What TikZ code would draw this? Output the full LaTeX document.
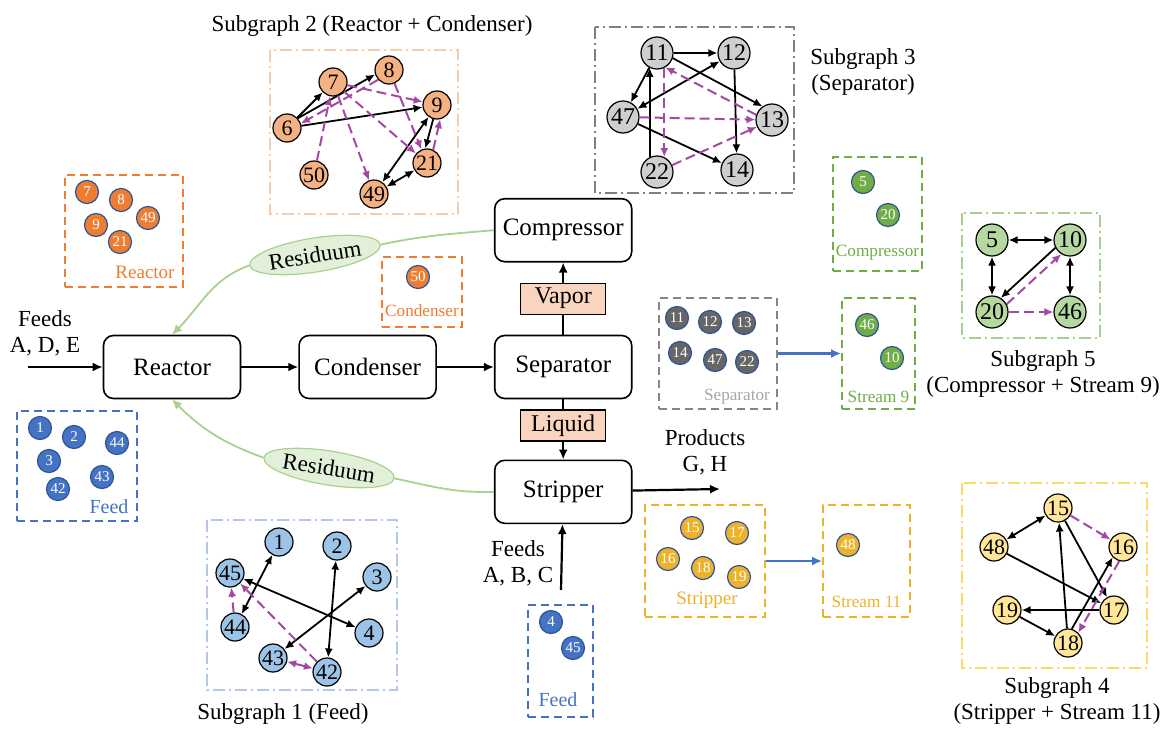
\documentclass[tikz,border=0pt]{standalone}
\usepackage{fontspec}
\setmainfont{Liberation Serif}
\usetikzlibrary{positioning,calc}
\usetikzlibrary{shapes.geometric}
\usetikzlibrary{arrows.meta}

\definecolor{orgC}{HTML}{ED7D31}
\definecolor{bluC}{HTML}{4472C4}
\definecolor{gryC}{HTML}{666666}
\definecolor{grnC}{HTML}{70AD47}
\definecolor{ylwC}{HTML}{EDB22A}
\definecolor{rimC}{HTML}{2F5597}
\definecolor{purC}{HTML}{A349A4}
\definecolor{peachF}{HTML}{F4B183}
\definecolor{peachL}{HTML}{F8CBAD}
\definecolor{greyF}{HTML}{D0CECE}
\definecolor{lblueF}{HTML}{9DC3E6}
\definecolor{lblueL}{HTML}{B4C7E7}
\definecolor{lylwF}{HTML}{FFE699}
\definecolor{lylwL}{HTML}{FFD966}
\definecolor{lgrnF}{HTML}{B4D8A0}
\definecolor{lgrnL}{HTML}{A9D18E}
\definecolor{resF}{HTML}{E2F0D9}
\definecolor{tagF}{HTML}{F9D5C0}

\tikzset{
   procbox/.style={draw, rounded corners=5pt, line width=0.8pt,
      minimum width=68.5pt, minimum height=31.5pt,
      font=\fontsize{12.5}{14}\selectfont},
   tagbox/.style={draw, fill=tagF, line width=0.6pt, inner sep=0pt,
      minimum width=42.5pt, minimum height=15.5pt,
      font=\fontsize{12}{14}\selectfont},
   flowarr/.style={-{Latex[length=5pt,width=4.5pt]}, line width=1.1pt},
   resline/.style={draw=lgrnL, line width=0.9pt},
   resnode/.style={ellipse, draw=lgrnL, fill=resF, line width=0.6pt,
      inner sep=0pt, minimum width=61pt, minimum height=17pt,
      font=\fontsize{11.5}{13}\selectfont},
   lbl/.style={align=center, font=\fontsize{11.5}{13}\selectfont},
   sgframe/.style={line width=0.8pt, dash pattern=on 6pt off 2pt on 1pt off 2pt},
   sgnode/.style={circle, draw, line width=0.6pt, inner sep=0pt,
      minimum size=14pt, font=\fontsize{11}{11}\selectfont},
   bignode/.style={sgnode, minimum size=16pt, font=\fontsize{12}{12}\selectfont},
   blk/.style={line width=0.9pt, -{Latex[length=4.5pt,width=4pt]}},
   blkb/.style={line width=0.9pt, {Latex[length=4.5pt,width=4pt]}-{Latex[length=4.5pt,width=4pt]}},
   pur/.style={draw=purC, line width=1pt, dash pattern=on 5pt off 2.5pt,
      -{Latex[length=4.5pt,width=4pt]}},
   purb/.style={pur, {Latex[length=4.5pt,width=4pt]}-{Latex[length=4.5pt,width=4pt]}},
   clbox/.style={draw, line width=0.9pt, dash pattern=on 4pt off 2.5pt,
      inner sep=0pt},
   clnode/.style={circle, draw=rimC, line width=0.6pt, inner sep=0pt,
      minimum size=11.5pt, text=white, font=\fontsize{7.5}{7.5}\selectfont},
   cllbl/.style={font=\fontsize{8.6}{10}\selectfont},
   bluarr/.style={draw=bluC, line width=1.1pt, -{Latex[length=5pt,width=4.5pt]}}
}

\begin{document}
\begin{tikzpicture}[x=0.5pt,y=-0.5pt]
   \useasboundingbox (0,0) rectangle (1160,728);

   % process units
   \node[procbox] (reac) at (172,367) {Reactor};
   \node[procbox, right=28.5pt of reac] (cond) {Condenser};
   \node[procbox, right=28.5pt of cond] (sep) {Separator};
   \node[tagbox, above=10pt of sep] (vap) {Vapor};
   \node[procbox, above=10pt of vap] (comp) {Compressor};
   \node[tagbox, below=5pt of sep] (liq) {Liquid};
   \node[procbox, below=9pt of liq] (strip) {Stripper};

   % feeds and products
   \coordinate (fin1) at (28,367);
   \coordinate (fin2) at (561,590);
   \coordinate (pout) at (720,489);
   \node[lbl] (fin1lbl) at (45,333) {Feeds\\A, D, E};
   \node[lbl] (fin2lbl) at (518,563) {Feeds\\A, B, C};
   \node[lbl] (poutlbl) at (705,452) {Products\\G, H};

   \draw[flowarr] (fin1) -- (reac);
   \draw[flowarr] (reac) -- (cond);
   \draw[flowarr] (cond) -- (sep);
   \draw[line width=1.1pt] (sep) -- (vap);
   \draw[flowarr] (vap) -- (comp);
   \draw[line width=1.1pt] (sep) -- (liq);
   \draw[flowarr] (liq) -- (strip);
   \draw[flowarr] (strip) -- (pout);
   \draw[flowarr] (fin2) -- (strip);

   % residuum recycles
   \node[resnode, rotate=9] (res1) at (315,255) {Residuum};
   \node[resnode, rotate=-9] (res2) at (329,468) {Residuum};
   \draw[resline] (comp.west) to[out=185,in=12] (res1.east);
   \draw[resline, -{Latex[length=5pt,width=4.5pt]}] (res1.west)
      to[out=200,in=45] (reac.north);
   \draw[resline] (strip.west) to[out=182,in=-12] (res2.east);
   \draw[resline, -{Latex[length=5pt,width=4.5pt]}] (res2.west)
      to[out=160,in=-45] (reac.south);

   % reactor cluster
   \node[clbox, draw=orgC, minimum width=59pt, minimum height=56pt] (reacCl) at (124,231) {};
   \node[clnode, fill=orgC] (rc7)  at (87,192)  {7};
   \node[clnode, fill=orgC] (rc8)  at (121,200) {8};
   \node[clnode, fill=orgC] (rc49) at (148,218) {49};
   \node[clnode, fill=orgC] (rc9)  at (96,225)  {9};
   \node[clnode, fill=orgC] (rc21) at (120,242) {21};
   \node[cllbl, text=orgC, font=\fontsize{9.5}{10}\selectfont] (reacLbl) at (145,272) {Reactor};

   % condenser cluster
   \node[clbox, draw=orgC, minimum width=40pt, minimum height=35pt] (condCl) at (422,292) {};
   \node[clnode, fill=orgC] (cc50) at (418,277) {50};
   \node[cllbl, text=orgC] (condLbl) at (422,311) {Condenser};

   % feed cluster (left)
   \node[clbox, draw=bluC, minimum width=60pt, minimum height=55pt] (feedCl) at (77,466) {};
   \node[clnode, fill=bluC] (fc1)  at (40,428)  {1};
   \node[clnode, fill=bluC] (fc2)  at (74,437)  {2};
   \node[clnode, fill=bluC] (fc44) at (117,443) {44};
   \node[clnode, fill=bluC] (fc3)  at (49,461)  {3};
   \node[clnode, fill=bluC] (fc43) at (102,477) {43};
   \node[clnode, fill=bluC] (fc42) at (58,489)  {42};
   \node[cllbl, text=bluC, font=\fontsize{10}{10}\selectfont] (feedLbl) at (109,507) {Feed};

   % compressor cluster
   \node[clbox, draw=grnC, minimum width=44.5pt, minimum height=57pt] (compCl) at (877.5,214) {};
   \node[clnode, fill=grnC] (kc5)  at (863,182) {5};
   \node[clnode, fill=grnC] (kc20) at (888,215) {20};
   \node[cllbl, text=grnC] (compLbl) at (877.5,253) {Compressor};

   % separator cluster and stream 9
   \node[clbox, draw=gryC!80, minimum width=59pt, minimum height=55.5pt] (sepCl) at (718,353.5) {};
   \node[clnode, fill=gryC] (sc11) at (677,318) {11};
   \node[clnode, fill=gryC] (sc12) at (710,322) {12};
   \node[clnode, fill=gryC] (sc13) at (744,323) {13};
   \node[clnode, fill=gryC] (sc14) at (680,353) {14};
   \node[clnode, fill=gryC] (sc47) at (715,360) {47};
   \node[clnode, fill=gryC] (sc22) at (747,362) {22};
   \node[cllbl, text=gray!70] (sepLbl) at (737,397) {Separator};

   \node[clbox, draw=grnC, minimum width=36.5pt, minimum height=55.5pt] (s9Cl) at (878.5,353.5) {};
   \node[clnode, fill=grnC] (nc46) at (867,325) {46};
   \node[clnode, fill=grnC] (nc10) at (892,358) {10};
   \node[cllbl, text=grnC] (s9Lbl) at (878.5,397) {Stream 9};
   \draw[bluarr] (sepCl) -- (s9Cl);

   % stripper cluster and stream 11
   \node[clbox, draw=ylwC, minimum width=60pt, minimum height=56pt] (stripCl) at (705,561) {};
   \node[clnode, fill=ylwC] (tc15) at (692,528) {15};
   \node[clnode, fill=ylwC] (tc17) at (737,533) {17};
   \node[clnode, fill=ylwC] (tc16) at (668,559) {16};
   \node[clnode, fill=ylwC] (tc18) at (703,568) {18};
   \node[clnode, fill=ylwC] (tc19) at (739,577) {19};
   \node[cllbl, text=ylwC, font=\fontsize{9.5}{10}\selectfont] (stripLbl) at (707,600) {Stripper};

   \node[clbox, draw=ylwC, minimum width=43.5pt, minimum height=56pt] (s11Cl) at (866.5,561) {};
   \node[clnode, fill=ylwC] (mc48) at (848,545) {48};
   \node[cllbl, text=ylwC] (s11Lbl) at (866.5,602) {Stream 11};
   \draw[bluarr] (stripCl) -- (s11Cl);

   % feed cluster (bottom)
   \node[clbox, draw=bluC, minimum width=32.5pt, minimum height=56pt] (feed2Cl) at (560.5,661) {};
   \node[clnode, fill=bluC] (fd4)  at (551,622) {4};
   \node[clnode, fill=bluC] (fd45) at (573,648) {45};
   \node[cllbl, text=bluC, font=\fontsize{10}{10}\selectfont] (feed2Lbl) at (558,700) {Feed};

   % subgraph 2: reactor + condenser
   \draw[sgframe, draw=peachL] (270,50) rectangle (458,214);
   \node[lbl] (g2lbl) at (372,26) {Subgraph 2 (Reactor + Condenser)};
   \node[sgnode, fill=peachF] (g2n7)  at (333,82)  {7};
   \node[sgnode, fill=peachF] (g2n8)  at (389,70)  {8};
   \node[sgnode, fill=peachF] (g2n9)  at (437,105) {9};
   \node[sgnode, fill=peachF] (g2n6)  at (287,128) {6};
   \node[sgnode, fill=peachF] (g2n21) at (427,163) {21};
   \node[sgnode, fill=peachF] (g2n50) at (314,175) {50};
   \node[sgnode, fill=peachF] (g2n49) at (374,194) {49};
   \draw[blk] (g2n6) -- (g2n7);
   \draw[blk] (g2n6.42) -- (g2n8.198);
   \draw[blk] (g2n6) -- (g2n9);
   \draw[blk] (g2n9.255) -- (g2n21.97);
   \draw[blkb] (g2n9) -- (g2n49);
   \draw[blkb] (g2n21) -- (g2n49);
   \draw[pur] (g2n8.222) -- (g2n6.18);
   \draw[pur] (g2n7) -- (g2n9);
   \draw[pur] (g2n7) -- (g2n21);
   \draw[pur] (g2n8) -- (g2n21);
   \draw[pur] (g2n7) -- (g2n49);
   \draw[pur] (g2n50) -- (g2n7);
   \draw[pur] (g2n21.65) -- (g2n9.283);

   % subgraph 3: separator
   \draw[sgframe, draw=gray] (595,27) rectangle (794,193);
   \node[lbl] (g3lbl) at (863,72) {Subgraph 3\\(Separator)};
   \node[bignode, fill=greyF] (g3n11) at (657,53)  {11};
   \node[bignode, fill=greyF] (g3n12) at (734,53)  {12};
   \node[bignode, fill=greyF] (g3n47) at (623,117) {47};
   \node[bignode, fill=greyF] (g3n13) at (772,120) {13};
   \node[bignode, fill=greyF] (g3n22) at (657,172) {22};
   \node[bignode, fill=greyF] (g3n14) at (737,170) {14};
   \draw[blk] (g3n11) -- (g3n12);
   \draw[blk] (g3n11) -- (g3n47);
   \draw[blk] (g3n11.-18) -- (g3n13.125);
   \draw[blkb] (g3n12) -- (g3n47);
   \draw[blk] (g3n12) -- (g3n14);
   \draw[blk] (g3n22.116) -- (g3n11.244);
   \draw[blk] (g3n47) -- (g3n14);
   \draw[pur] (g3n13.162) -- (g3n11.-60);
   \draw[pur] (g3n11.296) -- (g3n22.64);
   \draw[pur] (g3n47) -- (g3n13);
   \draw[pur] (g3n22) -- (g3n13);

   % subgraph 5: compressor + stream 9
   \draw[sgframe, draw=lgrnL] (962,213) rectangle (1100,338);
   \node[lbl] (g5lbl) at (1043,374) {Subgraph 5\\(Compressor + Stream 9)};
   \node[bignode, fill=lgrnF] (g5n5)  at (992,240)  {5};
   \node[bignode, fill=lgrnF] (g5n10) at (1070,240) {10};
   \node[bignode, fill=lgrnF] (g5n20) at (992,312)  {20};
   \node[bignode, fill=lgrnF] (g5n46) at (1070,312) {46};
   \draw[blkb] (g5n5) -- (g5n10);
   \draw[blkb] (g5n5) -- (g5n20);
   \draw[blkb] (g5n10) -- (g5n46);
   \draw[blk] (g5n10.208) -- (g5n20.58);
   \draw[pur] (g5n20.28) -- (g5n10.238);
   \draw[pur] (g5n20) -- (g5n46);

   % subgraph 1: feed
   \draw[sgframe, draw=lblueL] (207,520) rectangle (397,690);
   \node[lbl] (g1lbl) at (283,714) {Subgraph 1 (Feed)};
   \node[sgnode, fill=lblueF] (g1n1)  at (279,542) {1};
   \node[sgnode, fill=lblueF] (g1n2)  at (337,546) {2};
   \node[sgnode, fill=lblueF] (g1n45) at (230,573) {45};
   \node[sgnode, fill=lblueF] (g1n3)  at (377,577) {3};
   \node[sgnode, fill=lblueF] (g1n44) at (235,627) {44};
   \node[sgnode, fill=lblueF] (g1n4)  at (369,633) {4};
   \node[sgnode, fill=lblueF] (g1n43) at (273,658) {43};
   \node[sgnode, fill=lblueF] (g1n42) at (327,672) {42};
   \draw[blkb] (g1n1) -- (g1n44);
   \draw[blkb] (g1n2) -- (g1n42);
   \draw[blkb] (g1n45) -- (g1n4);
   \draw[blkb] (g1n3) -- (g1n43);
   \draw[pur] (g1n44) -- (g1n45);
   \draw[pur] (g1n42) -- (g1n45);
   \draw[purb] (g1n42) -- (g1n43);

   % subgraph 4: stripper + stream 11
   \draw[sgframe, draw=lylwL] (962,483) rectangle (1147,668);
   \node[lbl] (g4lbl) at (1057,701) {Subgraph 4\\(Stripper + Stream 11)};
   \node[sgnode, fill=lylwF] (g4n15) at (1058,508) {15};
   \node[sgnode, fill=lylwF] (g4n48) at (994,547)  {48};
   \node[sgnode, fill=lylwF] (g4n16) at (1123,547) {16};
   \node[sgnode, fill=lylwF] (g4n19) at (1007,610) {19};
   \node[sgnode, fill=lylwF] (g4n17) at (1114,610) {17};
   \node[sgnode, fill=lylwF] (g4n18) at (1068,643) {18};
   \draw[blkb] (g4n15) -- (g4n48);
   \draw[blk] (g4n15) -- (g4n17);
   \draw[blk] (g4n48) -- (g4n17);
   \draw[blk] (g4n17) -- (g4n19);
   \draw[blk] (g4n19) -- (g4n18);
   \draw[blk] (g4n18) -- (g4n15);
   \draw[blk] (g4n18.75) -- (g4n16.225);
   \draw[pur] (g4n15) -- (g4n16);
   \draw[pur] (g4n16.255) -- (g4n18.45);
\end{tikzpicture}
\end{document}
